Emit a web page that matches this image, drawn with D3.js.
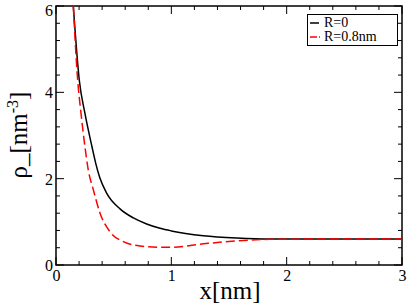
<!DOCTYPE html>
<html><head><meta charset="utf-8">
<script src="https://cdn.jsdelivr.net/npm/d3@7"></script>
<style>body{margin:0;background:#fff}svg{display:block}
svg text{font-family:"Liberation Serif","DejaVu Serif","Times New Roman",serif;fill:#000}</style>
</head><body>
<svg id="c" width="407" height="304"></svg>
<script>
const xR0 = [0.15,0.202,0.251,0.312,0.345,0.38,0.44,0.555,0.671,0.786,0.902,1.0,1.278,1.567,1.856,2.2,2.6,3.0];
const yR0 = [6.0,4.28,3.51,2.74,2.35,2.02,1.66,1.30,1.09,0.95,0.85,0.79,0.68,0.625,0.60,0.60,0.60,0.60];
const xR08 = [0.15,0.188,0.217,0.251,0.28,0.324,0.382,0.468,0.584,0.728,0.902,1.0,1.278,1.567,1.856,2.2,2.6,3.0];
const yR08 = [6.0,4.28,3.51,2.74,2.2,1.74,1.2,0.77,0.54,0.44,0.41,0.41,0.49,0.56,0.595,0.60,0.60,0.60];
const xTicks = [0,1,2,3];
const yTicks = [0,2,4,6];
const seriesNames = ["R=0","R=0.8nm"];

const svg = d3.select("#c");
const L=56, R=402, T=6, B=265;
const x = d3.scaleLinear().domain([0,3]).range([L,R]);
const y = d3.scaleLinear().domain([0,6]).range([B,T]);

svg.append("clipPath").attr("id","clip").append("rect").attr("x",L).attr("y",T).attr("width",R-L).attr("height",B-T);

const g = svg.append("g");
const xMinor = d3.range(0,3.0001,0.2);
const yMinor = d3.range(0,6.0001,0.4);
xMinor.forEach(v=>{
  const major = Math.abs(v-Math.round(v))<1e-6;
  const len = major?8:4;
  g.append("line").attr("x1",x(v)).attr("x2",x(v)).attr("y1",B).attr("y2",B-len).attr("stroke","#000").attr("stroke-width",1);
  g.append("line").attr("x1",x(v)).attr("x2",x(v)).attr("y1",T).attr("y2",T+len).attr("stroke","#000").attr("stroke-width",1);
});
yMinor.forEach(v=>{
  const major = Math.abs(v/2-Math.round(v/2))<1e-6;
  const len = major?8:4;
  g.append("line").attr("y1",y(v)).attr("y2",y(v)).attr("x1",L).attr("x2",L+len).attr("stroke","#000").attr("stroke-width",1);
  g.append("line").attr("y1",y(v)).attr("y2",y(v)).attr("x1",R).attr("x2",R-len).attr("stroke","#000").attr("stroke-width",1);
});

const xa = svg.append("g").attr("transform",`translate(0,${B})`)
  .call(d3.axisBottom(x).tickValues(xTicks).tickFormat(d3.format("d")).tickSize(0).tickPadding(4));
xa.select(".domain").remove();
xa.attr("font-family",null).attr("font-size",null);
xa.selectAll("text").attr("font-size",16).attr("dy","0.75em");
const ya = svg.append("g").attr("transform",`translate(${L},0)`)
  .call(d3.axisLeft(y).tickValues(yTicks).tickFormat(d3.format("d")).tickSize(0).tickPadding(3));
ya.select(".domain").remove();
ya.attr("font-family",null).attr("font-size",null);
ya.selectAll("text").attr("font-size",16).attr("dy","0.35em");
ya.selectAll(".tick").filter(d=>d===6).select("text").attr("dy","0.6em");

svg.append("rect").attr("x",L).attr("y",T).attr("width",R-L).attr("height",B-T)
  .attr("fill","none").attr("stroke","#000").attr("stroke-width",1.5);

const line = d3.line().x(d=>x(d[0])).y(d=>y(d[1])).curve(d3.curveMonotoneX);
const plot = svg.append("g").attr("clip-path","url(#clip)");
plot.append("path").attr("d",line(d3.zip(xR0,yR0))).attr("fill","none").attr("stroke","#000").attr("stroke-width",1.5);
plot.append("path").attr("d",line(d3.zip(xR08,yR08))).attr("fill","none").attr("stroke","#ff0000").attr("stroke-width",1.5).attr("stroke-dasharray","9,4");

const lg = svg.append("g");
lg.append("rect").attr("x",307.5).attr("y",14.5).attr("width",90).attr("height",31).attr("fill","#fff").attr("stroke","#000").attr("stroke-width",1);
lg.append("line").attr("x1",310).attr("x2",319).attr("y1",23).attr("y2",23).attr("stroke","#000").attr("stroke-width",1.5);
lg.append("line").attr("x1",310).attr("x2",321).attr("y1",37).attr("y2",37).attr("stroke","#ff0000").attr("stroke-width",1.5).attr("stroke-dasharray","7,2,1,4");
lg.append("text").attr("x",324).attr("y",27).attr("font-size",14).text(seriesNames[0]);
lg.append("text").attr("x",324).attr("y",41).attr("font-size",14).text(seriesNames[1]);

svg.append("text").attr("x",230).attr("y",299).attr("text-anchor","middle").attr("font-size",25).text("x[nm]");
const yt = svg.append("text").attr("transform","translate(27,135) rotate(-90)").attr("text-anchor","middle").attr("font-size",25);
yt.append("tspan").text("ρ_[nm");
yt.append("tspan").attr("font-size",16).attr("dy",-9).text("-3");
yt.append("tspan").attr("dy",9).text("]");
</script>
</body></html>
